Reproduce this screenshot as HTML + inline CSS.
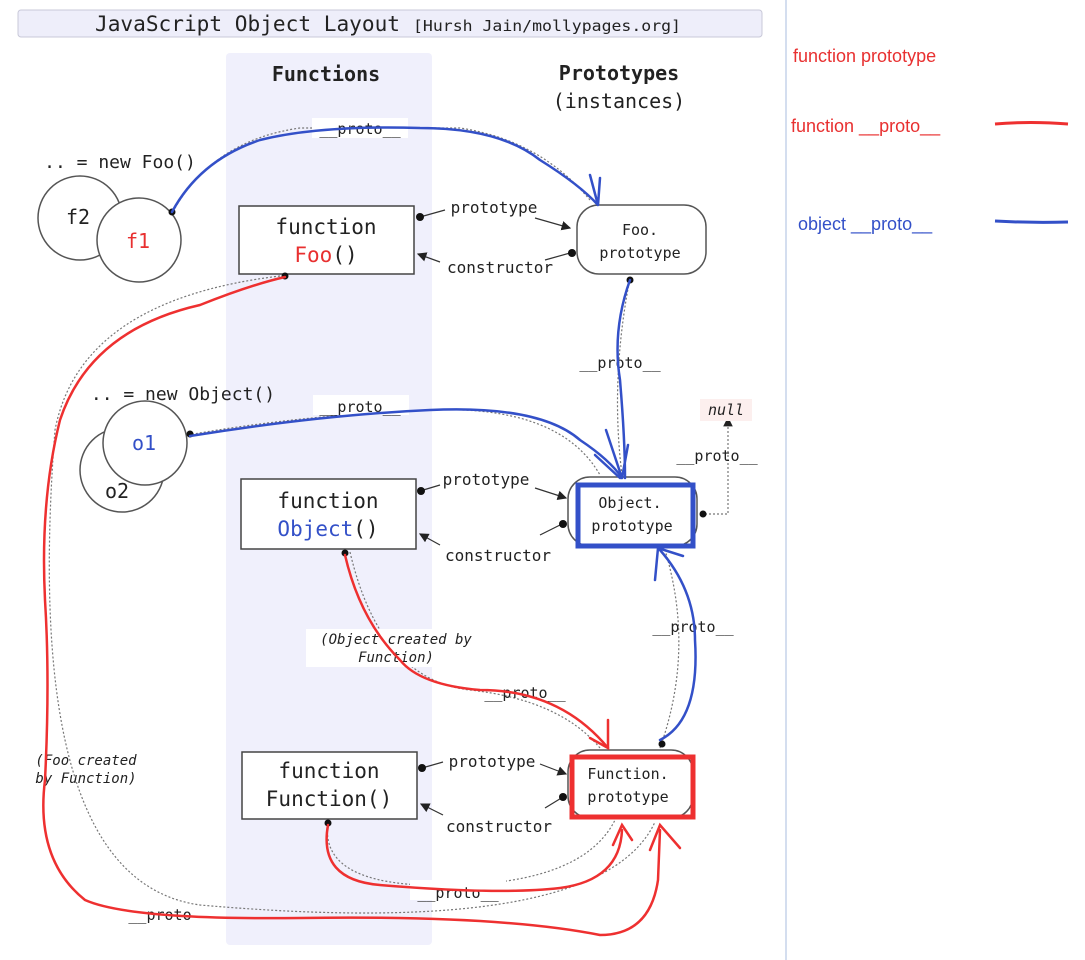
<!DOCTYPE html>
<html><head><meta charset="utf-8"><style>
html,body{margin:0;padding:0;background:#fff;}
svg{display:block;}
.m{font-family:"DejaVu Sans Mono","Liberation Mono",monospace;fill:#222;}
.s{font-family:"Liberation Sans","DejaVu Sans",sans-serif;}
</style></head><body>
<svg width="1085" height="960" viewBox="0 0 1085 960" xmlns="http://www.w3.org/2000/svg">
<defs>
<marker id="ah" markerWidth="8" markerHeight="8" refX="7" refY="4" orient="auto"><path d="M0,0 L8,4 L0,8 Z" fill="#222"/></marker>
</defs>
<!-- title -->
<rect x="18" y="10" width="744" height="27" rx="3" fill="#eeeefa" stroke="#c8c8d8"/>
<text x="95" y="31" class="m" font-size="21" textLength="305" lengthAdjust="spacingAndGlyphs">JavaScript Object Layout</text>
<text x="413" y="31" class="m" font-size="15" textLength="268" lengthAdjust="spacingAndGlyphs">[Hursh Jain/mollypages.org]</text>
<!-- functions column -->
<rect x="226" y="53" width="206" height="892" rx="4" fill="#f0f0fc"/>
<text x="326" y="81" text-anchor="middle" class="m" font-size="20" font-weight="bold">Functions</text>
<text x="619" y="80" text-anchor="middle" class="m" font-size="20" font-weight="bold">Prototypes</text>
<text x="619" y="108" text-anchor="middle" class="m" font-size="20">(instances)</text>
<!-- right separator -->
<line x1="786" y1="0" x2="786" y2="960" stroke="#c5d3ea" stroke-width="1.5"/>
<text x="793" y="62" class="s" font-size="18" fill="#e83030">function prototype</text>
<text x="791" y="132" class="s" font-size="18" fill="#e83030">function __proto__</text>
<path d="M995,124 Q1030,121 1068,124" stroke="#ee3030" stroke-width="3" fill="none"/>
<text x="798" y="230" class="s" font-size="18" fill="#3350c8">object __proto__</text>
<path d="M995,221 Q1030,223 1068,222" stroke="#3350c8" stroke-width="3" fill="none"/>

<!-- dotted original connectors -->
<g stroke="#777" stroke-width="1.2" stroke-dasharray="2,2" fill="none">
<path d="M175,208 Q215,140 300,128 L460,128 Q540,140 590,200"/>
<path d="M188,435 Q300,415 430,410 Q560,405 600,475"/>
<path d="M630,278 Q610,380 622,475"/>
<path d="M660,748 Q695,650 665,550"/>
<path d="M350,552 Q380,680 470,690 Q560,700 600,748"/>
<path d="M328,823 Q320,880 420,885 Q580,890 615,820"/>
<path d="M280,276 Q80,300 55,430 Q20,880 200,905 Q600,940 655,822"/>
<path d="M705,514 L728,514 L728,418" marker-end="url(#ah)"/>
</g>
<!-- label bgs -->
<rect x="312" y="118" width="96" height="20" fill="#fff"/>
<text x="360" y="134" text-anchor="middle" class="m" font-size="15">__proto__</text>
<rect x="313" y="395" width="96" height="20" fill="#fff"/>
<text x="360" y="412" text-anchor="middle" class="m" font-size="15">__proto__</text>
<text x="620" y="368" text-anchor="middle" class="m" font-size="15">__proto__</text>
<text x="717" y="461" text-anchor="middle" class="m" font-size="15">__proto__</text>
<text x="693" y="632" text-anchor="middle" class="m" font-size="15">__proto__</text>
<text x="525" y="698" text-anchor="middle" class="m" font-size="15">__proto__</text>
<rect x="410" y="880" width="96" height="20" fill="#fff"/>
<text x="458" y="898" text-anchor="middle" class="m" font-size="15">__proto__</text>
<text x="160" y="920" text-anchor="middle" class="m" font-size="15">__proto</text>
<rect x="700" y="399" width="52" height="22" fill="#fcefee"/>
<text x="726" y="415" text-anchor="middle" class="m" font-size="15" font-style="italic">null</text>
<rect x="306" y="629" width="180" height="38" fill="#fff"/>
<text x="396" y="644" text-anchor="middle" class="m" font-size="14" font-style="italic">(Object created by</text>
<text x="396" y="662" text-anchor="middle" class="m" font-size="14" font-style="italic">Function)</text>
<text x="86" y="765" text-anchor="middle" class="m" font-size="14" font-style="italic">(Foo created</text>
<text x="86" y="783" text-anchor="middle" class="m" font-size="14" font-style="italic">by Function)</text>

<!-- circles -->
<text x="120" y="168" text-anchor="middle" class="m" font-size="18">.. = new Foo()</text>
<circle cx="80" cy="218" r="42" fill="#fff" stroke="#555" stroke-width="1.5"/>
<circle cx="139" cy="240" r="42" fill="#fff" stroke="#555" stroke-width="1.5"/>
<text x="78" y="224" text-anchor="middle" class="m" font-size="20">f2</text>
<text x="138" y="248" text-anchor="middle" class="m" font-size="20" style="fill:#e83030">f1</text>
<text x="183" y="400" text-anchor="middle" class="m" font-size="18">.. = new Object()</text>
<circle cx="122" cy="470" r="42" fill="#fff" stroke="#555" stroke-width="1.5"/>
<circle cx="145" cy="443" r="42" fill="#fff" stroke="#555" stroke-width="1.5"/>
<text x="117" y="498" text-anchor="middle" class="m" font-size="20">o2</text>
<text x="144" y="450" text-anchor="middle" class="m" font-size="20" style="fill:#3350c8">o1</text>

<!-- function boxes -->
<rect x="239" y="206" width="175" height="68" fill="#fff" stroke="#444" stroke-width="1.5"/>
<text x="326" y="234" text-anchor="middle" class="m" font-size="21">function</text>
<text x="326" y="262" text-anchor="middle" class="m" font-size="21"><tspan style="fill:#e83030">Foo</tspan>()</text>
<rect x="241" y="479" width="175" height="70" fill="#fff" stroke="#444" stroke-width="1.5"/>
<text x="328" y="508" text-anchor="middle" class="m" font-size="21">function</text>
<text x="328" y="536" text-anchor="middle" class="m" font-size="21"><tspan style="fill:#3350c8">Object</tspan>()</text>
<rect x="242" y="752" width="175" height="67" fill="#fff" stroke="#444" stroke-width="1.5"/>
<text x="329" y="778" text-anchor="middle" class="m" font-size="21">function</text>
<text x="329" y="806" text-anchor="middle" class="m" font-size="21">Function()</text>

<!-- prototype boxes -->
<rect x="577" y="205" width="129" height="69" rx="22" fill="#fff" stroke="#555" stroke-width="1.5"/>
<text x="640" y="235" text-anchor="middle" class="m" font-size="15">Foo.</text>
<text x="640" y="258" text-anchor="middle" class="m" font-size="15">prototype</text>
<rect x="568" y="477" width="129" height="69" rx="22" fill="#fff" stroke="#555" stroke-width="1.5"/>
<rect x="578" y="485" width="115" height="61" fill="none" stroke="#3350c8" stroke-width="5"/>
<text x="630" y="508" text-anchor="middle" class="m" font-size="15">Object.</text>
<text x="632" y="531" text-anchor="middle" class="m" font-size="15">prototype</text>
<rect x="568" y="750" width="125" height="68" rx="22" fill="#fff" stroke="#555" stroke-width="1.5"/>
<rect x="572" y="757" width="121" height="60" fill="none" stroke="#ee3030" stroke-width="5"/>
<text x="628" y="779" text-anchor="middle" class="m" font-size="15">Function.</text>
<text x="628" y="802" text-anchor="middle" class="m" font-size="15">prototype</text>

<!-- prototype/constructor links -->
<g stroke="#333" stroke-width="1.2" fill="none">
<line x1="420" y1="217" x2="445" y2="210"/><line x1="535" y1="218" x2="570" y2="228" marker-end="url(#ah)"/>
<line x1="570" y1="253" x2="545" y2="260"/><line x1="440" y1="262" x2="418" y2="254" marker-end="url(#ah)"/>
<line x1="420" y1="491" x2="440" y2="485"/><line x1="535" y1="488" x2="566" y2="498" marker-end="url(#ah)"/>
<line x1="562" y1="524" x2="540" y2="535"/><line x1="440" y1="545" x2="420" y2="534" marker-end="url(#ah)"/>
<line x1="422" y1="768" x2="443" y2="762"/><line x1="540" y1="764" x2="566" y2="774" marker-end="url(#ah)"/>
<line x1="563" y1="797" x2="545" y2="808"/><line x1="443" y1="815" x2="421" y2="804" marker-end="url(#ah)"/>
</g>
<g fill="#111">
<circle cx="420" cy="217" r="4"/><circle cx="572" cy="253" r="4"/>
<circle cx="421" cy="491" r="4"/><circle cx="563" cy="524" r="4"/>
<circle cx="422" cy="768" r="4"/><circle cx="563" cy="797" r="4"/>
<circle cx="172" cy="212" r="3.5"/><circle cx="190" cy="434" r="3.5"/>
<circle cx="285" cy="276" r="3.5"/><circle cx="630" cy="280" r="3.5"/>
<circle cx="703" cy="514" r="3.5"/><circle cx="345" cy="553" r="3.5"/>
<circle cx="328" cy="823" r="3.5"/><circle cx="662" cy="744" r="3.5"/>
</g>
<text x="494" y="213" text-anchor="middle" class="m" font-size="16">prototype</text>
<text x="500" y="273" text-anchor="middle" class="m" font-size="16">constructor</text>
<text x="486" y="485" text-anchor="middle" class="m" font-size="16">prototype</text>
<text x="498" y="561" text-anchor="middle" class="m" font-size="16">constructor</text>
<text x="492" y="767" text-anchor="middle" class="m" font-size="16">prototype</text>
<text x="499" y="832" text-anchor="middle" class="m" font-size="16">constructor</text>

<!-- blue hand-drawn -->
<g stroke="#3350c8" stroke-width="2.5" fill="none" stroke-linecap="round">
<path d="M172,212 Q200,160 260,140 Q320,125 420,128 Q500,128 540,160 Q580,185 598,205"/>
<path d="M590,175 L598,205 L600,178"/>
<path d="M190,436 Q320,415 430,410 Q540,405 580,440 Q610,460 622,478"/>
<path d="M630,280 Q612,330 620,380 Q625,440 625,478"/>
<path d="M606,430 L622,478 L628,445"/>
<path d="M595,455 L620,478"/>
<path d="M660,740 Q700,720 695,640 Q695,590 660,550"/>
<path d="M655,580 L658,548 L683,556"/>
</g>
<!-- red hand-drawn -->
<g stroke="#ee3030" stroke-width="2.5" fill="none" stroke-linecap="round">
<path d="M285,277 Q250,285 200,305 Q90,330 60,420 Q40,500 45,600 Q50,680 45,780 Q35,860 85,900 Q130,920 300,918 Q500,915 600,935 Q650,935 658,880 L660,830"/>
<path d="M650,850 L660,825 L680,848"/>
<path d="M345,555 Q360,620 400,660 Q420,685 480,690 Q560,690 608,748"/>
<path d="M590,738 L608,748 L608,720"/>
<path d="M328,825 Q318,880 380,885 Q500,895 560,888 Q620,880 622,830"/>
<path d="M613,845 L622,825 L632,840"/>
</g>
</svg>
</body></html>
